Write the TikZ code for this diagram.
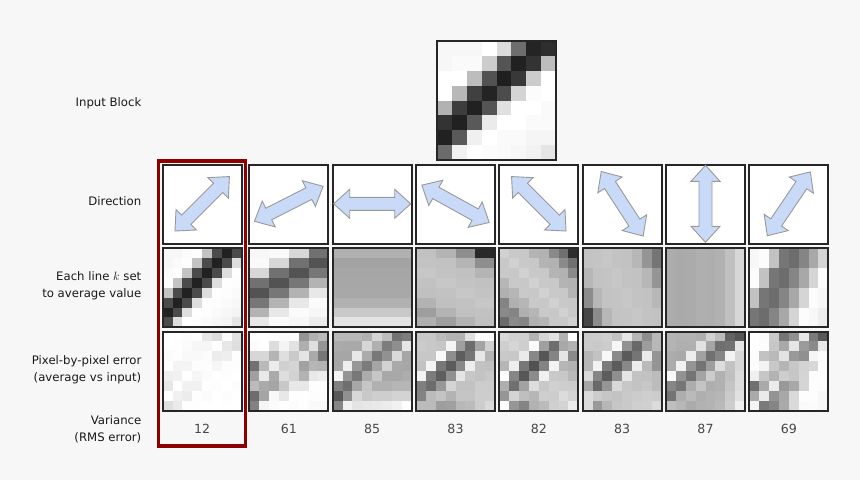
\documentclass[tikz,border=0pt]{standalone}
\usepackage{fontspec}
\setmainfont{DejaVu Sans}
\definecolor{arrowblue}{RGB}{201,218,248}
\definecolor{selred}{RGB}{140,0,0}
\definecolor{backgr}{RGB}{247,247,247}

% harmaasavyt, rivi kerrallaan (1 = valkoinen)
\def\inputblock{{0.97,0.97,0.97,1.00,0.86,0.43,0.14,0.18},%
{0.97,0.98,0.98,0.80,0.33,0.13,0.20,0.74},%
{1.00,1.00,0.74,0.32,0.12,0.22,0.80,1.00},%
{1.00,0.72,0.25,0.14,0.30,0.83,0.99,1.00},%
{0.70,0.24,0.13,0.33,0.88,1.00,1.00,0.98},%
{0.20,0.13,0.35,0.92,1.00,1.00,0.98,0.98},%
{0.13,0.35,0.94,1.00,0.98,0.98,0.96,0.96},%
{0.42,0.95,1.00,0.99,0.98,0.97,0.95,0.90}}

% suunnan \d viiva pikselin (\i,\j) kautta -> \lk
\newcommand{\lineof}{%
  \ifcase\d\relax \def\Lexpr{\i+\j}%
  \or \def\Lexpr{\i+floor(\j/2)}%
  \or \def\Lexpr{\i}%
  \or \def\Lexpr{3+\i-floor(\j/2)}%
  \or \def\Lexpr{7+\i-\j}%
  \or \def\Lexpr{3-floor(\i/2)+\j}%
  \or \def\Lexpr{\j}%
  \or \def\Lexpr{floor(\i/2)+\j}%
  \fi
  \pgfmathtruncatemacro{\lk}{\Lexpr}}

% kaksipainen nuoli: keskipiste x, y, kierto
\newcommand{\dirarrow}[3]{%
  \draw[fill=arrowblue, draw=black!40, line width=0.9pt, line join=miter, shift={(#1,#2)}, rotate=#3]
    (-38.5,0) -- (-22.5,14.5) -- (-22.5,6.5) -- (22.5,6.5) -- (22.5,14.5) -- (38.5,0)
    -- (22.5,-14.5) -- (22.5,-6.5) -- (-22.5,-6.5) -- (-22.5,-14.5) -- cycle;}

\begin{document}
\begin{tikzpicture}[x=1pt,y=-1pt,
  boxline/.style={line width=2pt, draw=black!85},
  rowlabel/.style={anchor=east, align=right, inner sep=0pt, text=black!90, font=\fontsize{11.7}{17}\selectfont},
  varnum/.style={inner sep=0pt, text=black!72, font=\fontsize{12.6}{15}\selectfont}]
\fill[backgr] (0,0) rectangle (860,480);
\useasboundingbox (0,0) rectangle (860,480);

%pikselit talteen
\foreach \row [count=\i from 0] in \inputblock {
  \foreach \v [count=\j from 0] in \row {
    \expandafter\xdef\csname px\i-\j\endcsname{\v}}}

%viivojen summat ja lukumaarat
\foreach \d in {0,...,7}{
  \foreach \l in {0,...,14}{%
    \expandafter\xdef\csname S\d-\l\endcsname{0}%
    \expandafter\xdef\csname N\d-\l\endcsname{0}}
  \foreach \i in {0,...,7}{
    \foreach \j in {0,...,7}{
      \lineof
      \edef\sold{\csname S\d-\lk\endcsname}
      \edef\nold{\csname N\d-\lk\endcsname}
      \edef\pv{\csname px\i-\j\endcsname}
      \pgfmathsetmacro{\snew}{\sold+\pv}
      \pgfmathtruncatemacro{\nnew}{\nold+1}
      \expandafter\xdef\csname S\d-\lk\endcsname{\snew}
      \expandafter\xdef\csname N\d-\lk\endcsname{\nnew}}}}

%syotelohko
\foreach \i in {0,...,7}
  \foreach \j in {0,...,7}{
    \edef\pv{\csname px\i-\j\endcsname}
    \pgfmathsetmacro{\pin}{100*(1-\pv)}
    \fill[black!\pin] (437+14.875*\j,41+14.875*\i) rectangle ++(15.2,15.2);
  }
\draw[boxline] (437,41) rectangle ++(119,119);

%keskiarvot ja virheet
\foreach \d/\bx in {0/162.7,1/249.3,2/332.7,3/416,4/499.3,5/582.7,6/666,7/749.3}{
  \foreach \i in {0,...,7}{
    \foreach \j in {0,...,7}{
      \lineof
      \edef\sold{\csname S\d-\lk\endcsname}
      \edef\nold{\csname N\d-\lk\endcsname}
      \edef\pv{\csname px\i-\j\endcsname}
      \pgfmathsetmacro{\avg}{\sold/\nold}
      \pgfmathsetmacro{\pa}{100*(1-\avg)}
      \pgfmathsetmacro{\pe}{100*abs(\pv-\avg)}
      \fill[black!\pa] (\bx+9.875*\j,248.3+9.875*\i) rectangle ++(10.2,10.2);
      \fill[black!\pe] (\bx+9.875*\j,331.6+9.875*\i) rectangle ++(10.2,10.2);
    }}
  \draw[boxline, fill=white] (\bx,165) rectangle ++(79,79);
  \draw[boxline] (\bx,248.3) rectangle ++(79,79);
  \draw[boxline] (\bx,331.6) rectangle ++(79,79);
}

%suuntanuolet
\foreach \bx/\r in {162.7/45,249.3/27,332.7/0,416/-29,499.3/-45,582.7/-57,666/90,749.3/56}
  \dirarrow{\bx+39.5}{203.8}{\r};

%valittu suunta
\draw[selred, line width=3.5pt] (158.3,160.8) rectangle (245.3,446);

%tekstit
\node[rowlabel] (lblinput) at (141.5,103) {Input Block};
\node[rowlabel] (lbldir) at (141.5,201.5) {Direction};
\node[rowlabel] (lblavg) at (141.5,286) {Each line $k$ set\\to average value};
\node[rowlabel] (lblerr) at (141.5,370) {Pixel-by-pixel error\\(average vs input)};
\node[rowlabel] (lblvar) at (141.5,429.5) {Variance\\(RMS error)};
\foreach \bx/\val [count=\c] in {162.7/12,249.3/61,332.7/85,416/83,499.3/82,582.7/83,666/87,749.3/69}
  \node[varnum] (var\c) at (\bx+39.5,429) {\val};
\end{tikzpicture}
\end{document}
